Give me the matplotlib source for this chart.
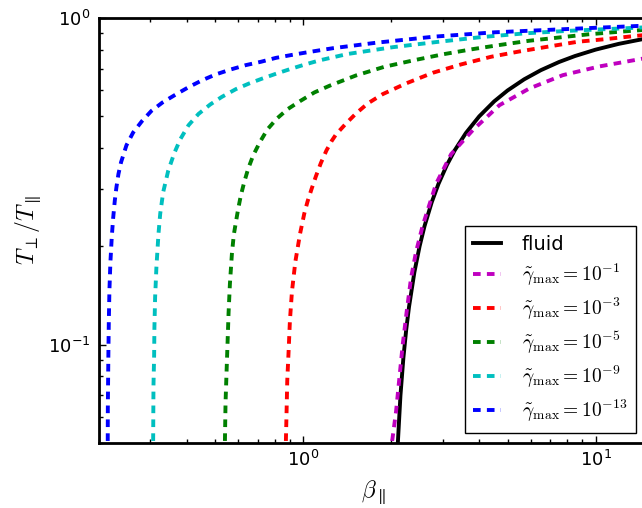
import numpy as np
import matplotlib
matplotlib.use("Agg")
import matplotlib.pyplot as plt
from matplotlib.ticker import NullFormatter

# ======================== DATA ========================
# fluid firehose threshold
beta_fluid = [2.10, 2.15, 2.2, 2.25, 2.3, 2.4, 2.5, 2.6, 2.75, 2.9, 3.1, 3.3, 3.6, 4.0, 4.5,
              5.0, 5.7, 6.5, 7.5, 8.5, 10.0, 12.0, 15.0]
T_fluid = [0.0476, 0.0698, 0.0909, 0.1111, 0.1304, 0.1667, 0.200, 0.2308, 0.2727, 0.3103,
           0.3548, 0.3939, 0.4444, 0.500, 0.5556, 0.600, 0.6491, 0.6923, 0.7333, 0.7647,
           0.800, 0.8333, 0.8667]

# gamma_max = 1e-1
beta_g1 = [2.005, 2.013, 2.077, 2.132, 2.189, 2.259, 2.338, 2.43, 2.563, 2.848, 3.205, 3.80,
           4.69, 5.94, 7.73, 10.32, 15.0]
T_g1 = [0.046, 0.0505, 0.0624, 0.0790, 0.100, 0.1265, 0.1602, 0.192, 0.2317, 0.311, 0.383,
        0.4533, 0.5409, 0.6086, 0.6685, 0.711, 0.755]

# gamma_max = 1e-3
beta_g3 = [0.871, 0.8722, 0.8768, 0.8814, 0.891, 0.9001, 0.9146, 0.9389, 0.9743, 1.008, 1.035,
           1.068, 1.105, 1.149, 1.20, 1.25, 1.294, 1.40, 1.515, 1.661, 1.869, 2.247, 2.773,
           3.467, 4.394, 5.49, 6.87, 8.70, 10.88, 13.78, 15.0]
T_g3 = [0.046, 0.0513, 0.0627, 0.0776, 0.0959, 0.1185, 0.1454, 0.1789, 0.218, 0.252, 0.275,
        0.300, 0.328, 0.360, 0.393, 0.420, 0.440, 0.4753, 0.5101, 0.5474, 0.5846, 0.6305,
        0.6796, 0.721, 0.761, 0.790, 0.817, 0.846, 0.862, 0.882, 0.888]

# gamma_max = 1e-5
beta_g5 = [0.539, 0.5392, 0.5420, 0.5463, 0.5507, 0.5550, 0.561, 0.5699, 0.5785, 0.5881, 0.5989,
           0.6116, 0.6281, 0.648, 0.6742, 0.7109, 0.7546, 0.8127, 0.8836, 0.9743, 1.091, 1.228,
           1.515, 1.894, 2.40, 3.00, 3.80, 4.75, 5.94, 7.53, 9.41, 11.77, 15.0]
T_g5 = [0.046, 0.0497, 0.0665, 0.0822, 0.1014, 0.1247, 0.1536, 0.1898, 0.2170, 0.2372, 0.2607,
        0.2865, 0.3147, 0.3459, 0.3800, 0.4174, 0.4566, 0.4924, 0.5258, 0.5564, 0.5916, 0.620,
        0.667, 0.709, 0.743, 0.774, 0.803, 0.828, 0.852, 0.872, 0.891, 0.906, 0.921]

# gamma_max = 1e-9
beta_g9 = [0.3060, 0.3064, 0.3072, 0.3088, 0.3095, 0.3112, 0.3144, 0.3195, 0.3240, 0.3316,
           0.3448, 0.3616, 0.3792, 0.4049, 0.4381, 0.4803, 0.5266, 0.5881, 0.6532, 0.7258,
           0.8127, 0.9077, 1.008, 1.134, 1.418, 2.023, 2.848, 4.06, 5.79, 8.15, 11.61, 15.0]
T_g9 = [0.046, 0.0500, 0.0748, 0.0925, 0.113, 0.1396, 0.1727, 0.218, 0.252, 0.293, 0.340,
        0.385, 0.425, 0.4696, 0.5086, 0.5435, 0.5736, 0.6057, 0.6305, 0.6531, 0.6767, 0.699,
        0.7195, 0.7415, 0.776, 0.814, 0.844, 0.874, 0.898, 0.914, 0.927, 0.937]

# gamma_max = 1e-13
beta_g13 = [0.2142, 0.2144, 0.2149, 0.2154, 0.2161, 0.2171, 0.2188, 0.2212, 0.2235, 0.2265,
            0.2294, 0.2331, 0.2380, 0.2483, 0.2617, 0.2804, 0.3022, 0.3297, 0.3664, 0.4071,
            0.4519, 0.5023, 0.5654, 0.6365, 0.7164, 0.8064, 0.9077, 1.021, 1.134, 1.260, 1.774,
            2.809, 4.51, 7.14, 10.19, 15.0]
T_g13 = [0.046, 0.0635, 0.0785, 0.0959, 0.1185, 0.1464, 0.1789, 0.214, 0.243, 0.276, 0.303,
         0.333, 0.362, 0.4077, 0.4461, 0.4831, 0.5195, 0.5512, 0.5834, 0.6156, 0.6455, 0.6721,
         0.6960, 0.7175, 0.7345, 0.7551, 0.7700, 0.784, 0.796, 0.808, 0.840, 0.877, 0.904,
         0.921, 0.934, 0.948]

dashed_series = [
    (beta_g1, T_g1, "m", r"$\tilde{\gamma}_{\rm max}=10^{-1}$"),
    (beta_g3, T_g3, "r", r"$\tilde{\gamma}_{\rm max}=10^{-3}$"),
    (beta_g5, T_g5, "g", r"$\tilde{\gamma}_{\rm max}=10^{-5}$"),
    (beta_g9, T_g9, "c", r"$\tilde{\gamma}_{\rm max}=10^{-9}$"),
    (beta_g13, T_g13, "b", r"$\tilde{\gamma}_{\rm max}=10^{-13}$"),
]

# ======================== STYLE ========================
plt.rcParams["mathtext.fontset"] = "cm"
plt.rcParams["font.family"] = "DejaVu Sans"
plt.rcParams["lines.scale_dashes"] = False
plt.rcParams["xtick.direction"] = "in"
plt.rcParams["ytick.direction"] = "in"
plt.rcParams["xtick.top"] = True
plt.rcParams["ytick.right"] = False

# ======================== PLOT ========================
fig = plt.figure(figsize=(6.42, 5.08), dpi=100)
# axes run a little past the right edge of the figure, as in the reference
ax = fig.add_axes([99 / 642, 1 - 443 / 508, 548 / 642, 425 / 508])

ax.plot(beta_fluid, T_fluid, color="k", lw=2.8, label="fluid")
for bb, tt, col, lab in dashed_series:
    ax.plot(bb, tt, color=col, lw=2.8, linestyle="--", dashes=(5.5, 4.5),
            dash_capstyle="butt", label=lab)

ax.set_xscale("log")
ax.set_yscale("log")
ax.set_xlim(0.2, 15)
ax.set_ylim(0.05, 1)
ax.xaxis.set_minor_formatter(NullFormatter())
ax.yaxis.set_minor_formatter(NullFormatter())

for sp in ax.spines.values():
    sp.set_linewidth(2)
ax.tick_params(which="major", length=5, width=1, labelsize=13)
ax.tick_params(which="minor", length=3, width=1)
ax.tick_params(axis="x", which="major", pad=5)
ax.tick_params(axis="y", which="major", pad=6)

ax.set_xlabel(r"$\beta_\parallel$", fontsize=17, labelpad=6)
ax.set_ylabel(r"$T_\perp/T_\parallel$", fontsize=17, labelpad=4)

leg = ax.legend(loc="lower right", bbox_to_anchor=(636 / 642, 1 - 433 / 508),
                bbox_transform=fig.transFigure, borderaxespad=0, fontsize=14,
                fancybox=False, framealpha=1, edgecolor="k", handlelength=1.4,
                handletextpad=1.1, labelspacing=0.4, borderpad=0.45)
leg.get_frame().set_linewidth(1)

fig.savefig("out.png", dpi=100)
